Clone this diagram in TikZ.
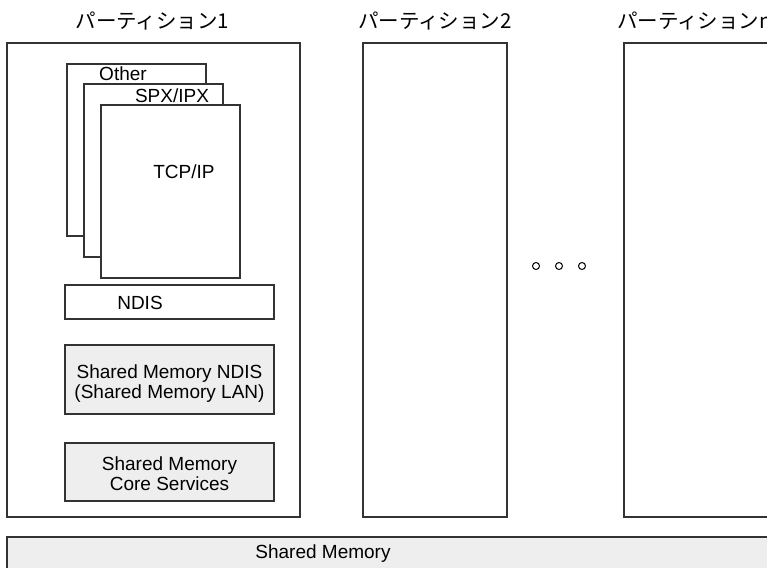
\documentclass[tikz,border=0pt]{standalone}
\usepackage{fontspec}
\setmainfont{Liberation Sans}
\newfontfamily\jafont{Noto Sans CJK JP}
\definecolor{edge}{HTML}{333333}
\definecolor{panel}{HTML}{EEEEEE}
\begin{document}
\begin{tikzpicture}[x=1pt,y=-1pt,
  box/.style={draw=edge,line width=1.3pt,fill=white,inner sep=0pt,outer sep=0pt,anchor=north west},
  graybox/.style={box,fill=panel},
  lbl/.style={inner sep=0pt,font=\fontsize{19}{20}\selectfont,align=center},
  title/.style={inner sep=0pt,font=\fontsize{20.5}{22}\selectfont\jafont},
  dot/.style={draw=black,line width=1pt,circle,minimum size=7pt,inner sep=0pt}]
\useasboundingbox (0,0) rectangle (767,567);
\clip (0,0) rectangle (767,567);

% partition titles
\node[title] (t1) at (152.5,21) {パーティション1};
\node[title] (t2) at (435,21) {パーティション2};
\node[title,anchor=west] (tn) at (617,21) {パーティションn};

% partition frames
\node[box,minimum width=293pt,minimum height=474pt] (p1) at (7,43) {};
\node[box,minimum width=144pt,minimum height=474pt] (p2) at (363,43) {};
\node[box,minimum width=170pt,minimum height=474pt] (pn) at (624,43) {};

% stacked protocol sheets
\node[box,minimum width=139pt,minimum height=172pt] (other) at (67,64) {};
\node[lbl] (otherl) at (123,74) {Other};
\node[box,minimum width=139pt,minimum height=173pt] (spx) at (84,84) {};
\node[lbl] (spxl) at (172,96) {SPX/IPX};
\node[box,minimum width=139pt,minimum height=173pt] (tcp) at (101,105) {};
\node[lbl] (tcpl) at (184,172) {TCP/IP};

% driver layers
\node[box,minimum width=209pt,minimum height=34pt] (ndis) at (65,285) {};
\node[lbl] (ndisl) at (140,303) {NDIS};
\node[graybox,minimum width=209pt,minimum height=69pt] (smndis) at (65,345) {};
\node[lbl] (smndisl) at (169.5,384) {Shared Memory NDIS\\(Shared Memory LAN)};
\node[graybox,minimum width=209pt,minimum height=58pt] (smcore) at (65,443) {};
\node[lbl] (smcorel) at (169.5,474) {Shared Memory\\Core Services};

% ellipsis between partitions
\node[dot] (d1) at (536,266) {};
\node[dot] (d2) at (559,266) {};
\node[dot] (d3) at (582,266) {};

% shared memory band
\node[graybox,minimum width=800pt,minimum height=60pt] (shm) at (7,537) {};
\node[lbl] (shml) at (323,554) {Shared Memory};
\end{tikzpicture}
\end{document}
